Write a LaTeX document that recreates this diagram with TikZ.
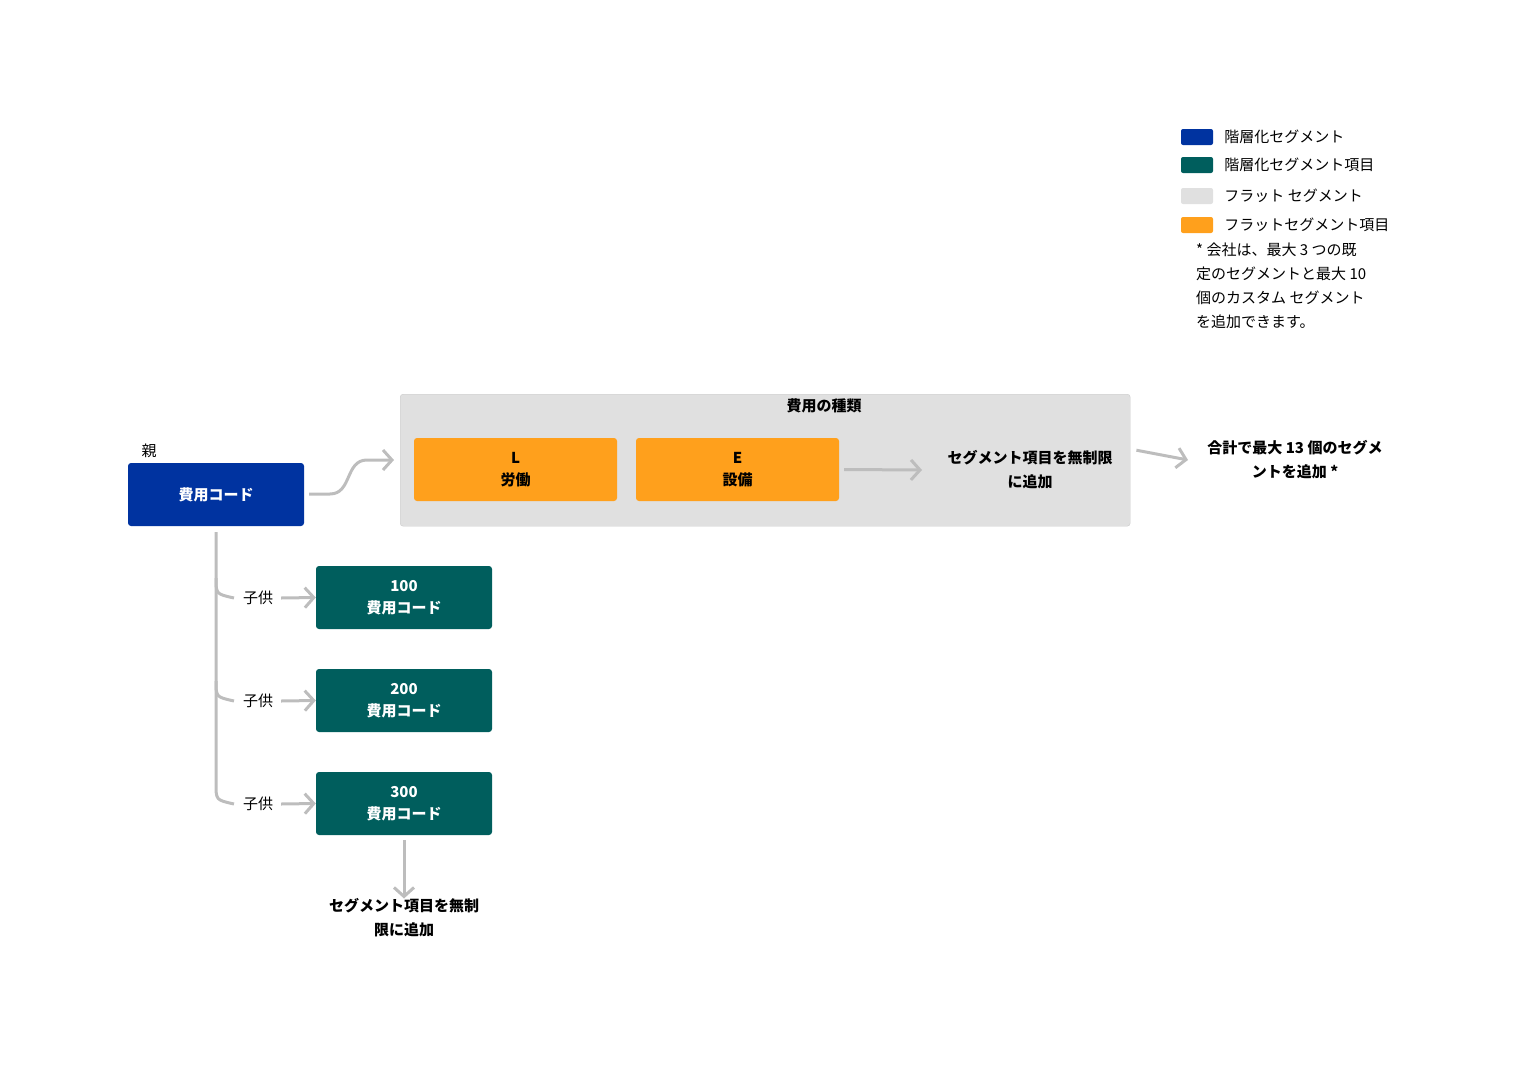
\documentclass[tikz,border=0pt]{standalone}
\usepackage{fontspec}
\setmainfont{Noto Sans CJK JP}
\usetikzlibrary{positioning}
\usetikzlibrary{arrows.meta}
\definecolor{hierblue}{HTML}{0033A0}
\definecolor{hierteal}{HTML}{005E5D}
\definecolor{flatgray}{HTML}{E0E0E0}
\definecolor{flatorange}{HTML}{FFA01C}
\definecolor{linegray}{HTML}{BDBDBD}
\tikzset{%
  grayarrow/.style = {-{Straight Barb[length=9pt,width=20pt,line width=3pt]},line width=3pt,linegray},
  grayline/.style = {line width=3pt,linegray},
  hbox/.style = {rectangle,rounded corners=3pt,fill=hierblue,text=white,font=\fontsize{15}{22}\selectfont\bfseries,
        minimum width=176pt,minimum height=63pt,align=center},
  ibox/.style = {hbox,fill=hierteal},
  fbox/.style = {hbox,fill=flatorange,text=black,minimum width=203pt},
  lbl/.style = {font=\fontsize{15}{24}\selectfont,align=center,inner sep=0pt},
  blbl/.style = {lbl,font=\fontsize{15}{24}\selectfont\bfseries},
  swatch/.style = {rectangle,rounded corners=2pt,minimum width=32pt,minimum height=16pt,inner sep=0pt}
}
\begin{document}
\begin{tikzpicture}[x=1pt,y=-1pt]
    \useasboundingbox (0,0) rectangle (1524,1079);
    % flat segment container
    \node[rectangle,rounded corners=3pt,fill=flatgray,draw=flatgray!90!black,minimum width=730pt,minimum height=132pt,anchor=north west] (cont) at (400,394) {};
    \node[blbl] (conttitle) at (824,406) {費用の種類};
    \node[fbox] (lab) at (515.5,469.5) {L\\労働};
    \node[fbox] (equ) at (737.5,469.5) {E\\設備};
    \node[blbl] (addflat) at (1030,470) {セグメント項目を無制限\\に追加};
    \node[blbl] (total) at (1295,460) {合計で最大 13 個のセグメ\\ントを追加 *};
    % parent and children
    \node[hbox] (parent) at (216,494.5) {費用コード};
    \node[lbl] (parentlbl) at (149,451) {親};
    \node[ibox] (c1) at (404,597.5) {100\\費用コード};
    \node[ibox] (c2) at (404,700.5) {200\\費用コード};
    \node[ibox] (c3) at (404,803.5) {300\\費用コード};
    \node[lbl] (k1) at (258,598) {子供};
    \node[lbl] (k2) at (258,701) {子供};
    \node[lbl] (k3) at (258,804) {子供};
    \node[blbl] (addhier) at (404,918) {セグメント項目を無制\\限に追加};
    % connectors
    \coordinate (pstart) at (309,494);
    \coordinate (pend) at (394,460);
    \draw[grayarrow] (pstart) -- (330,494) .. controls (352,494) and (345,460) .. (367,460) -- (pend);
    \draw[grayarrow] (equ.east) ++(5,0) -- (922,470);
    \draw[grayarrow] (cont.east) ++(6,-10) -- (1188,460);
    \coordinate (trunk) at (216,532);
    \draw[grayline] (trunk) -- (216,784) .. controls (216,800) .. (234,804);
    \draw[grayline] (216,578) .. controls (216,594) .. (234,598);
    \draw[grayline] (216,681) .. controls (216,697) .. (234,701);
    \foreach \k/\c in {k1/c1,k2/c2,k3/c3}
        \draw[grayarrow] (\k.east) ++(8,0) -- (\c.west);
    \draw[grayarrow] (c3.south) ++(0,5) -- (addhier.north);
    % legend
    \node[swatch,fill=hierblue] (s1) at (1197,137) {};
    \node[swatch,fill=hierteal] (s2) at (1197,165) {};
    \node[swatch,fill=flatgray] (s3) at (1197,196) {};
    \node[swatch,fill=flatorange] (s4) at (1197,225) {};
    \node[lbl,right=11pt of s1] (t1) {階層化セグメント};
    \node[lbl,right=11pt of s2] (t2) {階層化セグメント項目};
    \node[lbl,right=11pt of s3] (t3) {フラット セグメント};
    \node[lbl,right=11pt of s4] (t4) {フラットセグメント項目};
    \node[lbl,align=left,anchor=north west] (note) at (1196,243) {* 会社は、最大 \textit{3} つの既\\定のセグメントと最大 \textit{10}\\個のカスタム セグメント\\を追加できます。};
\end{tikzpicture}
\end{document}
